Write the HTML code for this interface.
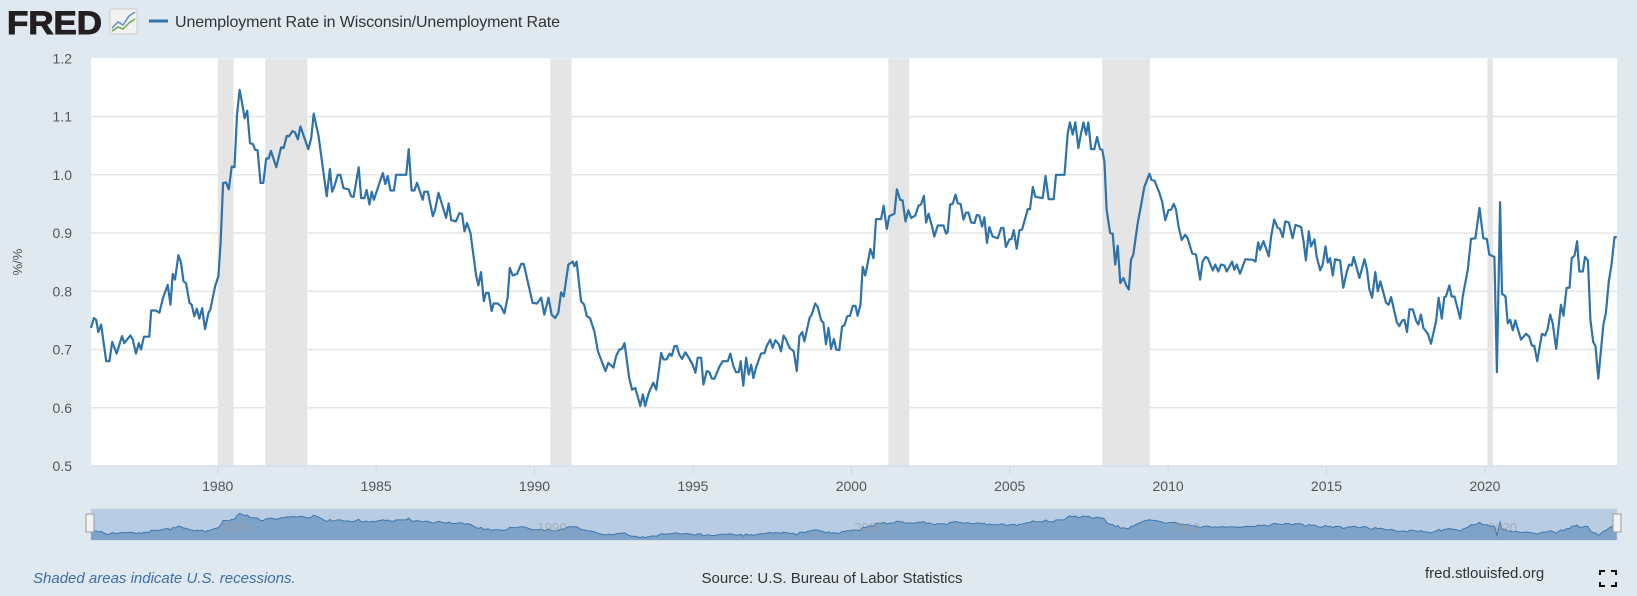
<!DOCTYPE html>
<html><head><meta charset="utf-8"><style>
html,body{margin:0;padding:0;background:#e1e9f0;}
svg{display:block;font-family:"Liberation Sans",sans-serif;}
</style></head><body>
<svg id="chart" width="1637" height="596" viewBox="0 0 1637 596">
<rect x="0" y="0" width="1637" height="596" fill="#e1e9f0"/>
<g>
<text x="7" y="34" font-size="32" font-weight="900" fill="#231f20" textLength="95" lengthAdjust="spacingAndGlyphs" stroke="#231f20" stroke-width="1">FRED</text>
<rect x="110" y="9" width="27" height="25" rx="2" fill="#f2f2f2" stroke="#ccc"/>
<polyline points="112,28 118,22 123,25 129,16 135,12" fill="none" stroke="#5a8fc4" stroke-width="1.5"/>
<polyline points="112,31 118,27 123,29 129,23 135,19" fill="none" stroke="#6aa84f" stroke-width="1.5"/>
</g>
<line x1="149" y1="21" x2="168" y2="21" stroke="#2f72a8" stroke-width="3"/>
<text x="175" y="27" font-size="16" fill="#333" textLength="385">Unemployment Rate in Wisconsin/Unemployment Rate</text>
<rect x="91" y="58" width="1526" height="408" fill="#fff"/>
<g id="rec"></g><g id="grid"></g><g id="yt"></g><g id="xt"></g>
<path id="line" fill="none" stroke="#2f72a8" stroke-width="2.2" stroke-linejoin="round"/>
<text x="22" y="262" font-size="13" fill="#555" text-anchor="middle" transform="rotate(-90 22 262)">%/%</text>
<g>
<rect x="91" y="509" width="1526" height="31" fill="#b8cde4" stroke="#c9d3de"/>
<path id="navArea" fill="#7fa3c8" stroke="none"/>
<path id="navLine" fill="none" stroke="#3e76ad" stroke-width="1"/>
<g id="navLabels"></g>
<rect x="86" y="514" width="8" height="18" fill="#f2f2f2" stroke="#999"/>
<rect x="1613" y="514" width="8" height="18" fill="#f2f2f2" stroke="#999"/>
</g>
<text x="33" y="583" font-size="15" font-style="italic" fill="#3a6fa8">Shaded areas indicate U.S. recessions.</text>
<text x="832" y="583" font-size="15" fill="#333" text-anchor="middle">Source: U.S. Bureau of Labor Statistics</text>
<text x="1425" y="578" font-size="15" fill="#333">fred.stlouisfed.org</text>
<g stroke="#111" stroke-width="2" fill="none">
<path d="M1600,575v-4h5M1611,571h5v4M1616,582v4h-5M1605,586h-5v-4"/>
</g>
</svg>
<script>
const years=[1976.00,1976.09,1976.16,1976.23,1976.32,1976.48,1976.58,1976.67,1976.81,1976.98,1977.05,1977.24,1977.32,1977.42,1977.51,1977.58,1977.67,1977.84,1977.90,1978.05,1978.16,1978.27,1978.42,1978.51,1978.58,1978.65,1978.76,1978.84,1978.92,1979.00,1979.11,1979.18,1979.26,1979.34,1979.42,1979.51,1979.60,1979.71,1979.77,1979.92,1980.02,1980.09,1980.17,1980.26,1980.35,1980.44,1980.53,1980.61,1980.69,1980.77,1980.85,1980.93,1981.02,1981.11,1981.18,1981.26,1981.35,1981.44,1981.53,1981.61,1981.68,1981.85,1982.00,1982.08,1982.18,1982.25,1982.36,1982.44,1982.53,1982.61,1982.86,1982.95,1983.03,1983.18,1983.32,1983.44,1983.54,1983.61,1983.68,1983.79,1983.87,1983.97,1984.13,1984.21,1984.29,1984.45,1984.53,1984.63,1984.70,1984.79,1984.86,1984.93,1985.21,1985.29,1985.37,1985.45,1985.56,1985.63,1985.95,1986.03,1986.12,1986.21,1986.29,1986.47,1986.52,1986.63,1986.79,1986.86,1986.97,1987.21,1987.29,1987.37,1987.52,1987.63,1987.71,1987.79,1987.87,1987.98,1988.16,1988.23,1988.31,1988.40,1988.47,1988.55,1988.65,1988.71,1988.84,1988.94,1989.05,1989.15,1989.22,1989.31,1989.45,1989.58,1989.66,1989.94,1990.08,1990.21,1990.31,1990.44,1990.54,1990.65,1990.75,1990.84,1990.92,1991.07,1991.21,1991.26,1991.33,1991.47,1991.57,1991.65,1991.75,1991.89,1992.00,1992.10,1992.24,1992.33,1992.49,1992.58,1992.68,1992.76,1992.84,1992.99,1993.08,1993.18,1993.34,1993.42,1993.49,1993.61,1993.75,1993.84,1994.00,1994.07,1994.17,1994.26,1994.33,1994.42,1994.49,1994.57,1994.66,1994.76,1994.87,1994.99,1995.08,1995.15,1995.26,1995.33,1995.44,1995.52,1995.60,1995.68,1995.84,1995.94,1996.10,1996.18,1996.28,1996.36,1996.45,1996.51,1996.59,1996.68,1996.76,1996.84,1996.91,1996.99,1997.15,1997.26,1997.33,1997.44,1997.52,1997.60,1997.71,1997.78,1997.86,1997.94,1998.05,1998.18,1998.28,1998.36,1998.45,1998.52,1998.68,1998.75,1998.86,1998.94,1999.05,1999.12,1999.20,1999.28,1999.36,1999.45,1999.52,1999.62,1999.71,1999.78,1999.87,1999.96,2000.05,2000.13,2000.20,2000.29,2000.36,2000.44,2000.52,2000.60,2000.70,2000.78,2000.94,2001.02,2001.12,2001.20,2001.36,2001.44,2001.54,2001.62,2001.71,2001.80,2001.89,2002.02,2002.12,2002.20,2002.29,2002.36,2002.44,2002.54,2002.62,2002.73,2002.91,2002.99,2003.04,2003.12,2003.20,2003.29,2003.36,2003.45,2003.54,2003.62,2003.70,2003.78,2003.89,2003.96,2004.04,2004.13,2004.20,2004.28,2004.36,2004.46,2004.62,2004.73,2004.80,2004.88,2004.99,2005.06,2005.13,2005.22,2005.31,2005.39,2005.57,2005.64,2005.73,2005.81,2006.04,2006.13,2006.23,2006.39,2006.46,2006.73,2006.83,2006.90,2006.99,2007.07,2007.17,2007.25,2007.33,2007.41,2007.48,2007.57,2007.67,2007.76,2007.85,2007.92,2007.99,2008.06,2008.17,2008.25,2008.33,2008.41,2008.49,2008.59,2008.67,2008.76,2008.83,2008.90,2009.04,2009.15,2009.25,2009.41,2009.48,2009.57,2009.72,2009.81,2009.91,2010.01,2010.09,2010.18,2010.25,2010.33,2010.43,2010.54,2010.62,2010.76,2010.88,2011.01,2011.09,2011.18,2011.25,2011.41,2011.49,2011.58,2011.67,2011.78,2011.85,2012.02,2012.09,2012.17,2012.27,2012.44,2012.67,2012.76,2012.84,2012.90,2013.01,2013.18,2013.25,2013.35,2013.46,2013.53,2013.62,2013.70,2013.81,2013.93,2014.02,2014.20,2014.28,2014.35,2014.44,2014.51,2014.62,2014.69,2014.80,2014.88,2014.97,2015.04,2015.11,2015.20,2015.27,2015.43,2015.53,2015.64,2015.72,2015.80,2015.86,2016.04,2016.20,2016.28,2016.35,2016.44,2016.54,2016.62,2016.70,2016.88,2016.96,2017.04,2017.22,2017.30,2017.39,2017.46,2017.54,2017.62,2017.72,2017.83,2017.90,2017.98,2018.06,2018.20,2018.30,2018.46,2018.54,2018.64,2018.72,2018.77,2018.88,2018.95,2019.04,2019.22,2019.30,2019.46,2019.56,2019.70,2019.83,2019.95,2020.06,2020.14,2020.30,2020.38,2020.48,2020.54,2020.65,2020.72,2020.80,2020.88,2020.96,2021.14,2021.30,2021.40,2021.48,2021.56,2021.65,2021.80,2021.90,2021.98,2022.06,2022.14,2022.25,2022.40,2022.48,2022.58,2022.67,2022.74,2022.83,2022.91,2022.98,2023.09,2023.16,2023.25,2023.33,2023.42,2023.49,2023.58,2023.67,2023.74,2023.82,2023.91,2023.99,2024.09,2024.16];
const values=[0.737,0.754,0.751,0.730,0.743,0.680,0.680,0.713,0.693,0.723,0.711,0.724,0.717,0.693,0.711,0.700,0.722,0.722,0.767,0.767,0.763,0.788,0.811,0.777,0.830,0.820,0.862,0.849,0.817,0.814,0.780,0.777,0.757,0.770,0.753,0.771,0.735,0.763,0.769,0.809,0.826,0.883,0.986,0.987,0.975,1.014,1.013,1.103,1.146,1.123,1.097,1.110,1.054,1.053,1.043,1.042,0.986,0.986,1.028,1.028,1.041,1.013,1.047,1.046,1.067,1.066,1.075,1.073,1.061,1.083,1.044,1.063,1.105,1.067,1.011,0.963,1.010,0.971,0.980,1.000,1.000,0.977,0.975,0.963,0.962,1.013,0.960,0.960,0.974,0.949,0.971,0.957,1.003,0.984,0.998,0.973,0.973,1.000,1.000,1.044,0.973,0.973,0.986,0.957,0.971,0.971,0.929,0.939,0.969,0.926,0.951,0.922,0.920,0.934,0.933,0.903,0.917,0.900,0.826,0.810,0.833,0.783,0.797,0.797,0.766,0.779,0.779,0.774,0.762,0.789,0.840,0.827,0.830,0.847,0.847,0.780,0.779,0.789,0.760,0.789,0.760,0.754,0.763,0.798,0.791,0.846,0.851,0.843,0.851,0.783,0.777,0.757,0.754,0.731,0.697,0.683,0.663,0.677,0.669,0.689,0.700,0.701,0.711,0.651,0.631,0.634,0.603,0.623,0.603,0.626,0.643,0.631,0.694,0.683,0.683,0.693,0.689,0.706,0.706,0.691,0.684,0.695,0.686,0.674,0.660,0.686,0.686,0.640,0.663,0.661,0.650,0.650,0.671,0.680,0.680,0.693,0.671,0.661,0.661,0.680,0.638,0.686,0.657,0.674,0.651,0.669,0.693,0.694,0.706,0.717,0.703,0.716,0.709,0.697,0.724,0.717,0.703,0.697,0.663,0.723,0.730,0.714,0.754,0.760,0.779,0.773,0.750,0.746,0.709,0.737,0.701,0.718,0.700,0.699,0.740,0.741,0.757,0.758,0.775,0.775,0.758,0.777,0.842,0.827,0.849,0.873,0.857,0.924,0.924,0.947,0.907,0.929,0.933,0.975,0.957,0.956,0.920,0.939,0.926,0.930,0.947,0.949,0.964,0.918,0.933,0.913,0.894,0.913,0.913,0.899,0.901,0.949,0.950,0.966,0.951,0.950,0.923,0.935,0.935,0.918,0.917,0.931,0.930,0.911,0.927,0.883,0.910,0.894,0.891,0.909,0.909,0.876,0.889,0.890,0.905,0.873,0.905,0.906,0.941,0.941,0.979,0.962,0.960,0.998,0.958,0.958,1.000,1.000,1.071,1.090,1.069,1.090,1.046,1.071,1.090,1.069,1.090,1.044,1.044,1.065,1.044,1.043,1.023,0.940,0.900,0.899,0.846,0.878,0.814,0.823,0.811,0.803,0.854,0.863,0.917,0.949,0.979,1.002,0.991,0.990,0.970,0.954,0.922,0.939,0.940,0.950,0.940,0.911,0.888,0.897,0.891,0.865,0.863,0.820,0.851,0.859,0.857,0.836,0.846,0.834,0.846,0.844,0.834,0.851,0.837,0.846,0.830,0.855,0.854,0.851,0.884,0.871,0.886,0.860,0.894,0.923,0.909,0.907,0.893,0.920,0.918,0.891,0.914,0.910,0.884,0.853,0.903,0.877,0.889,0.859,0.836,0.846,0.877,0.849,0.857,0.827,0.855,0.853,0.806,0.834,0.846,0.844,0.859,0.823,0.855,0.837,0.804,0.789,0.833,0.800,0.817,0.780,0.777,0.790,0.747,0.740,0.750,0.751,0.730,0.769,0.769,0.749,0.743,0.760,0.737,0.727,0.710,0.749,0.789,0.753,0.790,0.791,0.810,0.791,0.791,0.753,0.791,0.837,0.890,0.891,0.943,0.891,0.890,0.863,0.859,0.661,0.953,0.796,0.791,0.745,0.751,0.733,0.750,0.717,0.727,0.722,0.707,0.706,0.680,0.727,0.724,0.735,0.760,0.745,0.701,0.777,0.758,0.806,0.806,0.857,0.861,0.886,0.834,0.834,0.859,0.853,0.751,0.713,0.706,0.650,0.703,0.743,0.763,0.817,0.843,0.893,0.893];
const yTicks=[0.5,0.6,0.7,0.8,0.9,1.0,1.1,1.2];
const yTickLabels=["0.5","0.6","0.7","0.8","0.9","1.0","1.1","1.2"];
const xTicks=[1980,1985,1990,1995,2000,2005,2010,2015,2020];
const recStart=[1980.0,1981.5,1990.5,2001.17,2007.92,2020.08];
const recEnd=[1980.5,1982.83,1991.17,2001.83,2009.42,2020.25];

const NS="http://www.w3.org/2000/svg";
const X0=91,X1=1617,Y0=58.3,Y1=466;
const xMin=1976.0,xMax=2024.17,yMin=0.5,yMax=1.2;
const xs=v=>X0+(v-xMin)/(xMax-xMin)*(X1-X0);
const ys=v=>Y1-(v-yMin)/(yMax-yMin)*(Y1-Y0);
function mk(tag,attrs,parent){const e=document.createElementNS(NS,tag);for(const k in attrs)e.setAttribute(k,attrs[k]);parent.appendChild(e);return e;}

const rec=document.getElementById('rec');
recStart.forEach((s,i)=>{
  const r=mk('rect',{x:xs(s),y:Y0,width:xs(recEnd[i])-xs(s),height:Y1-Y0,fill:'#e5e5e5'},rec);
  
  
});
const grid=document.getElementById('grid'),yt=document.getElementById('yt');
yTicks.forEach((t,i)=>{
  if(t>yMin&&t<yMax){const g=mk('line',{x1:X0,x2:X1,y1:ys(t),y2:ys(t),stroke:'#e6e6e6','stroke-width':1.5},grid);
  
  }
  const tx=mk('text',{x:72,y:ys(t)+5,'font-size':14,fill:'#555','text-anchor':'end'},yt);
  tx.textContent=yTickLabels[i];
  
  
});
mk('line',{x1:X0,x2:X1,y1:Y1,y2:Y1,stroke:'#ccd6eb','stroke-width':1},grid);
const xt=document.getElementById('xt');
xTicks.forEach(t=>{
  const l=mk('line',{x1:xs(t),x2:xs(t),y1:Y1,y2:Y1+8,stroke:'#ccd6eb'},xt);
  
  
  const tx=mk('text',{x:xs(t),y:491,'font-size':14,fill:'#555','text-anchor':'middle'},xt);
  tx.textContent=String(t);
  
  
});
let d='';
years.forEach((yr,i)=>{d+=(i?'L':'M')+xs(yr).toFixed(1)+','+ys(values[i]).toFixed(1);});
document.getElementById('line').setAttribute('d',d);
const nY0=511,nY1=540,nMin=0.55,nMax=1.2;
const nys=v=>nY1-(v-nMin)/(nMax-nMin)*(nY1-nY0);
let nd='';
years.forEach((yr,i)=>{nd+=(i?'L':'M')+xs(yr).toFixed(1)+','+nys(values[i]).toFixed(1);});
document.getElementById('navLine').setAttribute('d',nd);
document.getElementById('navArea').setAttribute('d',nd+'L'+xs(years[years.length-1]).toFixed(1)+','+nY1+'L'+xs(years[0]).toFixed(1)+','+nY1+'Z');
const nl=document.getElementById('navLabels');
[1980,1990,2000,2010,2020].forEach(t=>{
  const tx=mk('text',{x:xs(t)+3,y:532,'font-size':13,fill:'#999','fill-opacity':0.6},nl);
  tx.textContent=String(t);
  
  
});
</script>
</body></html>
